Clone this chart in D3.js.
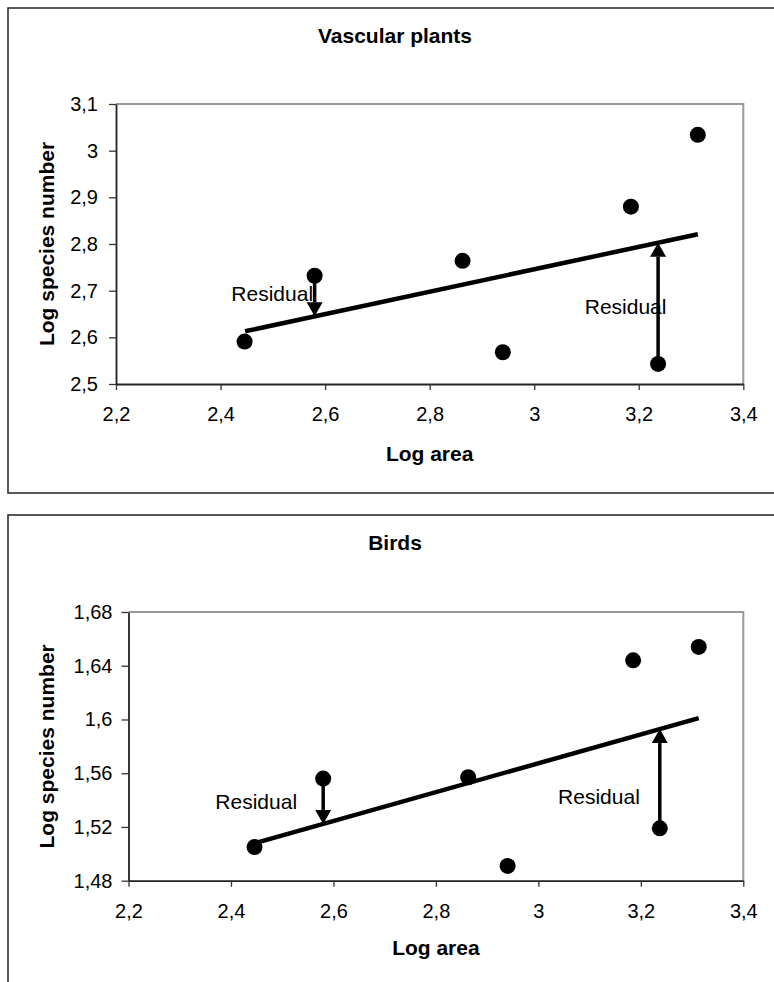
<!DOCTYPE html>
<html>
<head>
<meta charset="utf-8">
<script src="https://cdn.jsdelivr.net/npm/d3@7"></script>
<style>
  html, body { margin: 0; padding: 0; background: #fff; }
  svg { display: block; }
  text { font-family: "Liberation Sans", Arial, sans-serif; fill: #000; }
</style>
</head>
<body>
<svg id="chart" width="774" height="982"></svg>
<script>
// Log10 island area (shared by both panels)
const logArea = [2.446, 2.580, 2.863, 2.940, 3.185, 3.237, 3.313];
// Log10 species counts per island
const logPlants = [2.591, 2.732, 2.764, 2.568, 2.880, 2.543, 3.034];
const logBirds  = [1.505, 1.556, 1.557, 1.491, 1.644, 1.519, 1.654];

// Fitted regression lines (start and end of the drawn segment)
const plantsFit = [[2.447, 2.613], [3.313, 2.821]];
const birdsFit  = [[2.447, 1.508], [3.313, 1.601]];

// Islands whose residual is marked with an arrow
const residualIdx = [1, 5];

// Axis ticks
const areaTicks   = [2.2, 2.4, 2.6, 2.8, 3.0, 3.2, 3.4];
const plantsTicks = [2.5, 2.6, 2.7, 2.8, 2.9, 3.0, 3.1];
const birdsTicks  = [1.48, 1.52, 1.56, 1.60, 1.64, 1.68];

// "Residual" label anchors (text end, baseline) in data units
const plantsNotes = [[2.577, 2.678], [3.253, 2.650]];
const birdsNotes  = [[2.529, 1.533], [3.198, 1.537]];

const panels = [
  { title: "Vascular plants", y: logPlants, fit: plantsFit, ticks: plantsTicks, notes: plantsNotes,
    box: { x: 8, y: 8, h: 485 },
    plot: { l: 116, r: 743.3, t: 104, b: 384 },
    titleY: 43, xTitleY: 461, yPad: 11 },
  { title: "Birds", y: logBirds, fit: birdsFit, ticks: birdsTicks, notes: birdsNotes,
    box: { x: 8, y: 515, h: 490 },
    plot: { l: 128.5, r: 743.3, t: 612, b: 880.7 },
    titleY: 550, xTitleY: 955, yPad: 9 }
];

const svg = d3.select("#chart");
const locale = d3.formatLocale({ decimal: ",", thousands: ".", grouping: [3], currency: ["", ""] });
const fmt = locale.format("~g");

panels.forEach(p => {
  const g = svg.append("g");

  // outer frame
  g.append("rect")
    .attr("x", p.box.x).attr("y", p.box.y)
    .attr("width", 800).attr("height", p.box.h)
    .attr("fill", "#fff").attr("stroke", "#222").attr("stroke-width", 1.5);

  const x = d3.scaleLinear().domain([areaTicks[0], areaTicks[areaTicks.length - 1]]).range([p.plot.l, p.plot.r]);
  const y = d3.scaleLinear().domain([p.ticks[0], p.ticks[p.ticks.length - 1]]).range([p.plot.b, p.plot.t]);

  // plot area top/right border
  g.append("path")
    .attr("d", `M${p.plot.l},${p.plot.t}H${p.plot.r}V${p.plot.b}`)
    .attr("fill", "none").attr("stroke", "#999").attr("stroke-width", 2);

  // axes
  const xAxis = g.append("g")
    .attr("transform", `translate(0,${p.plot.b})`)
    .call(d3.axisBottom(x).tickValues(areaTicks).tickFormat(fmt).tickSize(6).tickSizeOuter(0).tickPadding(17));
  const yAxis = g.append("g")
    .attr("transform", `translate(${p.plot.l},0)`)
    .call(d3.axisLeft(y).tickValues(p.ticks).tickFormat(fmt).tickSize(7).tickSizeOuter(0).tickPadding(p.yPad));
  [xAxis, yAxis].forEach(a => {
    a.select(".domain").attr("stroke", "#222").attr("stroke-width", 1.8);
    a.selectAll(".tick line").attr("stroke", "#333").attr("stroke-width", 1.3);
    a.selectAll(".tick text").attr("font-size", 20).attr("fill", "#000")
      .attr("font-family", "'Liberation Sans', Arial, sans-serif");
  });

  // titles
  g.append("text").attr("x", 395).attr("y", p.titleY)
    .attr("text-anchor", "middle").attr("font-size", 21).attr("font-weight", "bold").text(p.title);
  g.append("text").attr("x", (p.plot.l + p.plot.r) / 2).attr("y", p.xTitleY)
    .attr("text-anchor", "middle").attr("font-size", 21).attr("font-weight", "bold").text("Log area");
  g.append("text")
    .attr("transform", `translate(54,${(p.plot.t + p.plot.b) / 2}) rotate(-90)`)
    .attr("text-anchor", "middle").attr("font-size", 21).attr("font-weight", "bold").text("Log species number");

  // regression line
  g.append("line")
    .attr("x1", x(p.fit[0][0])).attr("y1", y(p.fit[0][1]))
    .attr("x2", x(p.fit[1][0])).attr("y2", y(p.fit[1][1]))
    .attr("stroke", "#000").attr("stroke-width", 4.5);

  const fitAt = v => p.fit[0][1] + (v - p.fit[0][0]) * (p.fit[1][1] - p.fit[0][1]) / (p.fit[1][0] - p.fit[0][0]);

  // residual arrows, observation -> fitted value
  residualIdx.forEach(i => {
    const cx = x(logArea[i]);
    const y0 = y(p.y[i]);
    const y1 = y(fitAt(logArea[i]));
    const dir = Math.sign(y1 - y0);
    const headH = 14, headW = 8;
    g.append("line")
      .attr("x1", cx).attr("y1", y0).attr("x2", cx).attr("y2", y1 - dir * headH)
      .attr("stroke", "#000").attr("stroke-width", 3.5);
    g.append("path")
      .attr("d", `M${cx},${y1}L${cx - headW},${y1 - dir * headH}L${cx + headW},${y1 - dir * headH}Z`)
      .attr("fill", "#000");
  });

  // observations
  g.selectAll("circle.obs").data(logArea).join("circle")
    .attr("class", "obs")
    .attr("cx", d => x(d))
    .attr("cy", (d, i) => y(p.y[i]))
    .attr("r", 8).attr("fill", "#000");

  // residual labels
  p.notes.forEach(n => {
    g.append("text").attr("x", x(n[0])).attr("y", y(n[1]))
      .attr("text-anchor", "end").attr("font-size", 21).text("Residual");
  });
});
</script>
</body>
</html>
